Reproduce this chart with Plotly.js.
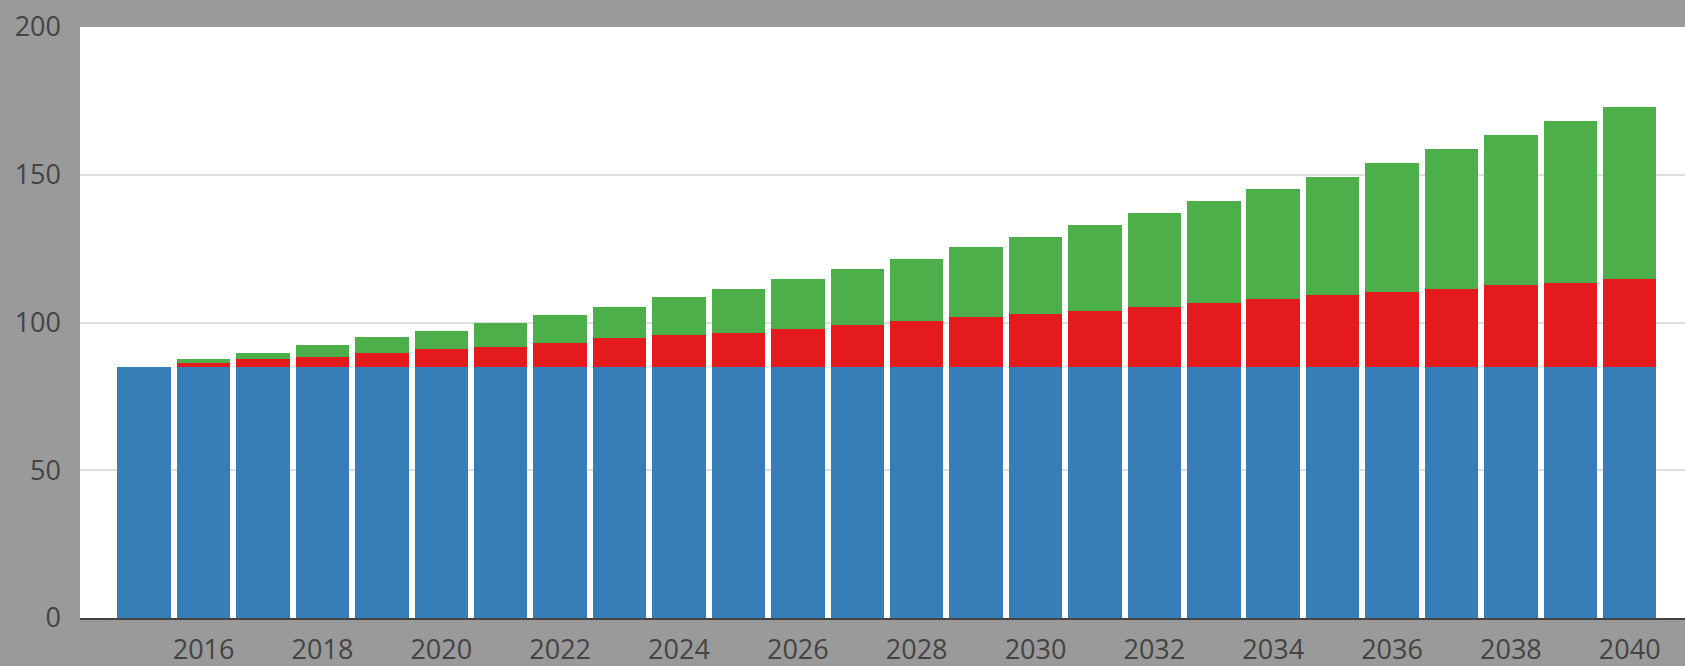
<!DOCTYPE html>
<html>
<head>
<meta charset="utf-8">
<script src="https://cdn.plot.ly/plotly-3.0.1.min.js"></script>
<style>html,body{margin:0;padding:0;background:#9a9a9a;}#chart{width:1685px;height:666px;}</style>
</head>
<body>
<div id="chart"></div>
<script>
const years = [2015,2016,2017,2018,2019,2020,2021,2022,2023,2024,2025,2026,2027,2028,2029,2030,2031,2032,2033,2034,2035,2036,2037,2038,2039,2040];
const blueVals = [85,85,85,85,85,85,85,85,85,85,85,85,85,85,85,85,85,85,85,85,85,85,85,85,85,85];
const redVals = [0,1.2,2.5,3.4,4.8,6.0,6.7,8.2,9.6,10.8,11.6,12.9,14.2,15.5,17.0,17.8,18.9,20.4,21.7,23.1,24.4,25.2,26.3,27.7,28.5,29.7];
const greenVals = [0,1.3,2.2,4.0,5.2,6.1,8.1,9.2,10.5,12.7,14.7,16.7,18.8,21.0,23.4,26.0,29.1,31.6,34.4,37.0,39.7,43.7,47.3,50.6,54.6,58.1];
const yTicks = [0,50,100,150,200];
const xTicks = [2016,2018,2020,2022,2024,2026,2028,2030,2032,2034,2036,2038,2040];

const traces = [
  {type:'bar', x:years, y:blueVals, marker:{color:'#377eb8'}, name:'Base'},
  {type:'bar', x:years, y:redVals, marker:{color:'#e41a1c'}, name:'Red'},
  {type:'bar', x:years, y:greenVals, marker:{color:'#4daf4a'}, name:'Green'}
];

const layout = {
  width:1685, height:666,
  barmode:'stack', bargap:0.1,
  showlegend:false,
  paper_bgcolor:'#9a9a9a', plot_bgcolor:'#ffffff',
  margin:{l:80, r:0, t:27, b:48, pad:0},
  font:{family:'"Open Sans", sans-serif', size:27, color:'#444444'},
  xaxis:{range:[2013.92, 2040.93], tickmode:'array', tickvals:xTicks,
         showgrid:false, zeroline:false, showline:true, linecolor:'#444', linewidth:2, ticks:'', ticklabelstandoff:7},
  yaxis:{range:[0,200], tickmode:'array', tickvals:yTicks, gridcolor:'#dedede', gridwidth:2,
         zeroline:false, showline:false, ticks:'', ticklabelstandoff:18}
};

Plotly.newPlot('chart', traces, layout, {staticPlot:true, displayModeBar:false});
</script>
</body>
</html>
